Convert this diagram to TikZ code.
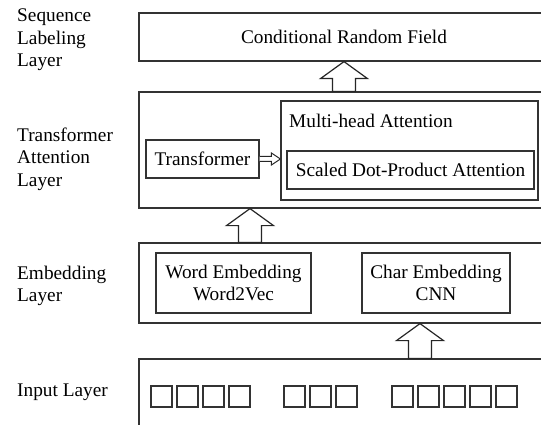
\documentclass[tikz,border=0pt]{standalone}
\usepackage{fontspec}
\setmainfont{Liberation Serif}
\usetikzlibrary{arrows.meta}

\begin{document}
\begin{tikzpicture}[x=1pt, y=-1pt, font=\fontsize{19.3}{22.5}\selectfont,
    layer/.style={draw=black!80, line width=1.2pt, inner sep=0pt, align=center},
    lbl/.style={anchor=west, align=left, inner sep=0pt},
    cell/.style={draw=black!80, line width=1.2pt, minimum size=21pt, inner sep=0pt},
    bigarrow/.style={draw=black!85, line width=1.2pt, fill=white,
        to path={([xshift=-\sw pt]\tikztostart)
            -- ([xshift=-\sw pt, yshift=-\hl pt]\tikztotarget)
            -- ([xshift=-\hw pt, yshift=-\hl pt]\tikztotarget)
            -- (\tikztotarget)
            -- ([xshift=\hw pt, yshift=-\hl pt]\tikztotarget)
            -- ([xshift=\sw pt, yshift=-\hl pt]\tikztotarget)
            -- ([xshift=\sw pt]\tikztostart) -- cycle}},
    sidearrow/.style={draw=black!85, line width=1pt, fill=white,
        to path={([yshift=2.5pt]\tikztostart)
            -- ([xshift=-9pt, yshift=2.5pt]\tikztotarget)
            -- ([xshift=-9pt, yshift=6pt]\tikztotarget)
            -- (\tikztotarget)
            -- ([xshift=-9pt, yshift=-6pt]\tikztotarget)
            -- ([xshift=-9pt, yshift=-2.5pt]\tikztotarget)
            -- ([yshift=-2.5pt]\tikztostart)}}]

    \def\sw{11.5};
    \def\hw{23.5};
    \def\hl{17};

    \useasboundingbox (0,0) rectangle (541,425);

% layers (right side runs off the page)
    \node[layer, minimum width=410pt, minimum height=48pt] (crf) at (344,37) {Conditional Random Field};
    \node[layer, minimum width=410pt, minimum height=116pt] (tal) at (344,150) {};
    \node[layer, minimum width=410pt, minimum height=80pt] (emb) at (344,283) {};
    \node[layer, minimum width=410pt, minimum height=86pt] (inp) at (344,402) {};

% left labels
    \node[lbl] (lseq) at (17,40) {Sequence\\Labeling\\Layer};
    \node[lbl] (ltal) at (17,159) {Transformer\\Attention\\Layer};
    \node[lbl] (lemb) at (17,286) {Embedding\\Layer};
    \node[lbl] (linp) at (17,392) {Input Layer};

% transformer attention
    \node[layer, minimum width=113pt, minimum height=38pt] (trans) at (202.5,159) {Transformer};
    \node[layer, minimum width=257pt, minimum height=99pt] (mha) at (409.5,150.5) {};
    \node[anchor=west, inner sep=0pt] (mhatxt) at (289,121) {Multi-head Attention};
    \node[layer, minimum width=247pt, minimum height=38pt] (sdpa) at (410.5,170) {Scaled Dot-Product Attention};
    \coordinate (mhain) at (trans.east -| mha.west);
    \draw[sidearrow] (trans.east) to (mhain);

% embedding
    \node[layer, minimum width=155pt, minimum height=60pt] (word) at (233.5,283) {Word Embedding\\Word2Vec};
    \node[layer, minimum width=148pt, minimum height=60pt] (char) at (436,283) {Char Embedding\\CNN};

% input cells
    \foreach \i in {0,...,3}
        \node[cell] (sa\i) at (161.5+26*\i,396.5) {};
    \foreach \i in {0,...,2}
        \node[cell] (sb\i) at (294.5+26*\i,396.5) {};
    \foreach \i in {0,...,4}
        \node[cell] (sc\i) at (402.5+26*\i,396.5) {};

% block arrows
    \coordinate (atwo) at ([xshift=-94pt]emb.north);
    \coordinate (atwotip) at ([xshift=-94pt]tal.south);
    \coordinate (athree) at ([xshift=76pt]inp.north);
    \coordinate (athreetip) at ([xshift=76pt]emb.south);

    \draw[bigarrow] (tal.north) to (crf.south);
    \draw[bigarrow] (atwo) to (atwotip);
    \draw[bigarrow] (athree) to (athreetip);

\end{tikzpicture}
\end{document}
